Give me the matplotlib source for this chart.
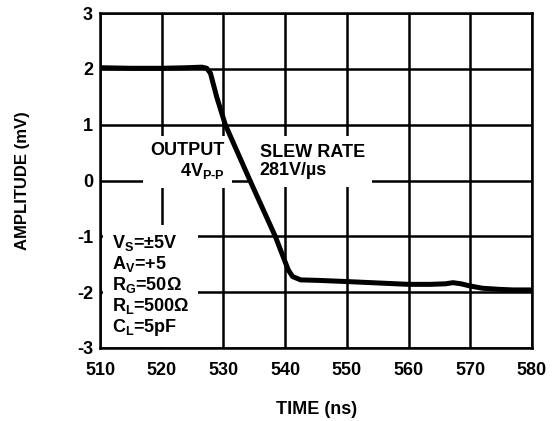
import matplotlib
matplotlib.use("Agg")
import matplotlib.pyplot as plt

# Step response
time_ns = [510, 515, 520, 524, 526.5, 527.3, 527.9, 528.9, 530.3, 534.3, 538.4,
           540.5, 541.2, 542.5, 545.6, 550, 560, 563.5, 566, 567.2, 568.5, 570,
           572, 574.8, 577, 580]
amp_mv = [2.02, 2.01, 2.01, 2.02, 2.03, 2.01, 1.92, 1.5, 1.0, 0.0, -1.0,
          -1.6, -1.72, -1.78, -1.79, -1.81, -1.86, -1.86, -1.85, -1.83, -1.85, -1.89,
          -1.93, -1.95, -1.96, -1.96]

x_ticks = [510, 520, 530, 540, 550, 560, 570, 580]
y_ticks = [-3, -2, -1, 0, 1, 2, 3]

plt.rcParams['font.family'] = ['Liberation Sans', 'DejaVu Sans']
plt.rcParams['font.weight'] = 'bold'
plt.rcParams['axes.unicode_minus'] = False
plt.rcParams['mathtext.fontset'] = 'custom'
plt.rcParams['mathtext.rm'] = 'Liberation Sans:bold'
plt.rcParams['mathtext.it'] = 'Liberation Sans:bold'
plt.rcParams['mathtext.bf'] = 'Liberation Sans:bold'

fig = plt.figure(figsize=(5.56, 4.21), dpi=100)
ax = fig.add_axes([0.1799, 0.1734, 0.7769, 0.7957])

ax.plot(time_ns, amp_mv, color='black', lw=3.6, zorder=5,
        solid_joinstyle='round', solid_capstyle='butt')

ax.set_xlim(510, 580)
ax.set_ylim(-3, 3)
ax.set_xticks(x_ticks)
ax.set_yticks(y_ticks)
ax.tick_params(length=0, labelsize=13, colors='black')
ax.tick_params(axis='y', pad=5)
ax.tick_params(axis='x', pad=10)
ax.grid(True, color='black', lw=1.8)
for s in ax.spines.values():
    s.set_linewidth(1.8)
    s.set_zorder(6)

box = dict(boxstyle='square,pad=0.4', fc='white', ec='none')

ax.text(530.25, 0.34, 'OUTPUT\n4V$_{\\mathrm{P\\text{-}P}}$', fontsize=13,
        ha='right', va='center', multialignment='right', bbox=box, zorder=3,
        linespacing=1.15)
ax.text(535.9, 0.34, 'SLEW RATE\n281V/µs', fontsize=13,
        ha='left', va='center', multialignment='left', bbox=box, zorder=3,
        linespacing=1.15)

params = ('V$_{\\mathrm{S}}$=±5V\n'
          'A$_{\\mathrm{V}}$=+5\n'
          'R$_{\\mathrm{G}}$=50Ω\n'
          'R$_{\\mathrm{L}}$=500Ω\n'
          'C$_{\\mathrm{L}}$=5pF')
ax.text(511.9, -1.88, params, fontsize=13, ha='left', va='center',
        bbox=dict(boxstyle='square,pad=0.5', fc='white', ec='none'), zorder=3,
        linespacing=1.07)

fig.text(23 / 556, 1 - 181 / 421, 'AMPLITUDE (mV)', rotation=90, fontsize=12,
         ha='center', va='center')
fig.text(317 / 556, 1 - 410 / 421, 'TIME (ns)', fontsize=13,
         ha='center', va='center')

fig.savefig('out.png', dpi=100, facecolor='white')
